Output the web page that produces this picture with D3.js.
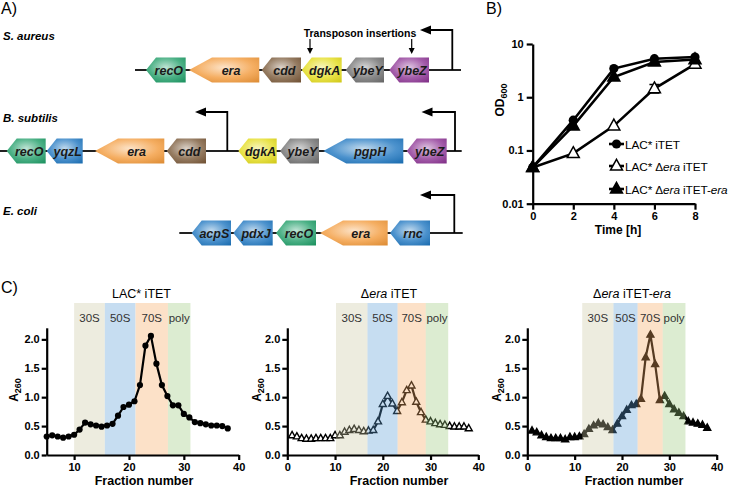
<!DOCTYPE html>
<html><head><meta charset="utf-8">
<script src="https://cdn.jsdelivr.net/npm/d3@7"></script>
<style>body{margin:0;background:#fff} svg{display:block;font-family:"Liberation Sans",Arial,Helvetica,sans-serif}</style>
</head><body><svg id="c" width="730" height="487"></svg>
<script>
// ---------- Panel A data (map units; 1 unit = one tick of the gene map) ----------
const saGenes = ["recO","era","cdd","dgkA","ybeY","ybeZ"];
const saStart = [14.6,18.9,26.17,30.17,34.57,38.93];
const saEnd   = [18.57,25.93,30.1,34.17,38.4,42.9];
const saLine  = [13.5,46.1];
const saPromoters = [45.23];

const bsGenes = ["recO","yqzL","era","cdd","dgkA","ybeY","pgpH","ybeZ"];
const bsStart = [0.67,4.67,9.5,16.67,23.83,28.0,32.33,40.67];
const bsEnd   = [4.57,8.27,16.43,20.6,27.67,31.9,40.33,44.67];
const bsLine  = [0,46.17];
const bsPromoters = [22.73,45.5];

const ecGenes = ["acpS","pdxJ","recO","era","rnc"];
const ecStart = [19.17,23.33,27.6,32.0,39.0];
const ecEnd   = [23.1,27.27,31.6,38.77,43.0];
const ecLine  = [17.93,46.27];
const ecPromoters = [45.43];

const transposonSites = [31.0,41.17];
const geneColors = {recO:"#1f9e68",era:"#f39a3b",cdd:"#7b5a3a",dgkA:"#e4dc1c",ybeY:"#6f6f6f",ybeZ:"#8d3595",
  yqzL:"#1f77c0",pgpH:"#1f77c0",acpS:"#1f77c0",pdxJ:"#1f77c0",rnc:"#1f77c0"};

// ---------- Panel B data ----------
const timeH = [0,2,4,6,8];
const odWT = [0.048,0.37,3.45,5.3,5.7];
const odDelta = [0.048,0.088,0.29,1.45,4.2];
const odDeltaErrLo = [null,null,null,1.2,null];
const odDeltaErrHi = [null,null,null,1.73,null];
const odComp = [0.048,0.29,2.4,4.6,5.1];
const legendLabels = ["LAC* iTET","LAC* Δera iTET","LAC* Δera iTET-era"];

// ---------- Panel C data ----------
const fracWT = d3.range(5,39);
const a260WT = [0.32,0.34,0.32,0.30,0.32,0.35,0.44,0.56,0.53,0.51,0.49,0.51,0.54,0.68,0.83,0.87,0.93,1.21,1.89,2.06,1.58,1.21,1.02,0.86,0.86,0.71,0.65,0.57,0.55,0.53,0.51,0.51,0.50,0.46];
const fracDelta = d3.range(1,39);
const a260Delta = [0.34,0.32,0.29,0.28,0.28,0.29,0.29,0.29,0.29,0.34,0.34,0.40,0.43,0.45,0.43,0.41,0.42,0.43,0.58,0.88,1.02,0.89,0.76,0.91,1.12,1.20,0.92,0.74,0.61,0.58,0.55,0.53,0.52,0.50,0.49,0.49,0.49,0.46];
const fracComp = d3.range(1,39);
const a260Comp = [0.42,0.39,0.34,0.31,0.29,0.29,0.29,0.27,0.31,0.31,0.32,0.36,0.45,0.51,0.55,0.53,0.48,0.43,0.54,0.67,0.78,0.86,0.88,0.97,1.69,2.08,1.57,0.95,1.02,0.88,0.79,0.73,0.67,0.58,0.56,0.54,0.52,0.47];
const bandNames = ["30S","50S","70S","poly"];
const bandsWT = [10,15.6,21.2,27.1,31.2];
const bandsDelta = [10.2,16.8,23.1,29.0,33.7];
const bandsComp = [11.6,18.2,23.3,28.6,33.4];
const yTicksC = [0,0.5,1.0,1.5,2.0];

// =====================================================================
const svg = d3.select("#c");
const defs = svg.append("defs");
const FONT = '"Liberation Sans",Arial,sans-serif';

function label(txt,x,y,size,weight,anchor){
  return svg.append("text").attr("x",x).attr("y",y).attr("font-size",size)
    .attr("font-weight",weight||"normal").attr("text-anchor",anchor||"start").text(txt);
}
label("A)",1,14,16);
label("B)",486,14,16);
label("C)",1,293,16);

// ---------- Panel A ----------
const xMap = d3.scaleLinear().domain([0,47]).range([0,470]);
Object.entries(geneColors).forEach(([g,c])=>{
  const gr = defs.append("radialGradient").attr("id","g_"+g).attr("cx","50%").attr("cy","40%").attr("r","75%");
  gr.append("stop").attr("offset","0%").attr("stop-color",d3.interpolateRgb(c,"#fff")(0.72));
  gr.append("stop").attr("offset","55%").attr("stop-color",d3.interpolateRgb(c,"#fff")(0.2));
  gr.append("stop").attr("offset","100%").attr("stop-color",d3.color(c).darker(0.25));
});
function arrowHead(x,y){ // pointing left
  svg.append("path").attr("d",`M${x},${y} L${x+11},${y-4.5} L${x+11},${y+4.5} Z`).attr("fill","#000");
}
function row(name,labelY,yc,genes,starts,ends,line,promoters,promY,promHead){
  svg.append("text").attr("x",3).attr("y",labelY).attr("font-size",11.5).attr("font-weight","bold")
    .attr("font-style","italic").text(name);
  svg.append("line").attr("x1",xMap(line[0])).attr("x2",xMap(line[1])).attr("y1",yc).attr("y2",yc)
    .attr("stroke","#222").attr("stroke-width",1.8);
  const h=12.5;
  genes.forEach((g,i)=>{
    const x0=xMap(starts[i]), x1=xMap(ends[i]);
    const head = (x1-x0)>60 ? 23 : 10;
    svg.append("path").attr("d",`M${x0},${yc} L${x0+head},${yc-h} L${x1},${yc-h} L${x1},${yc+h} L${x0+head},${yc+h} Z`)
      .attr("fill",`url(#g_${g})`);
    svg.append("text").attr("x",(x0+head*0.6+x1)/2).attr("y",yc+4.5).attr("text-anchor","middle")
      .attr("font-size",12.5).attr("font-weight","bold").attr("font-style","italic").attr("fill","#1a1a1a").text(g);
  });
  promoters.forEach((p,i)=>{
    const px=xMap(p);
    svg.append("path").attr("d",`M${px},${yc} L${px},${promY} L${promHead[i]+8},${promY}`)
      .attr("fill","none").attr("stroke","#000").attr("stroke-width",1.8);
    arrowHead(promHead[i],promY);
  });
}
row("S. aureus",39.5,70,saGenes,saStart,saEnd,saLine,saPromoters,30,[420]);
row("B. subtilis",122,151,bsGenes,bsStart,bsEnd,bsLine,bsPromoters,112,[195,421.5]);
row("E. coli",214.5,233,ecGenes,ecStart,ecEnd,ecLine,ecPromoters,195,[420]);
svg.append("text").attr("x",360).attr("y",37).attr("text-anchor","middle").attr("font-size",10.5)
  .attr("font-weight","bold").text("Transposon insertions");
transposonSites.forEach(s=>{
  const x=xMap(s);
  svg.append("line").attr("x1",x).attr("x2",x).attr("y1",39).attr("y2",50).attr("stroke","#000").attr("stroke-width",1.2);
  svg.append("path").attr("d",`M${x-3},${48} L${x+3},${48} L${x},${54} Z`).attr("fill","#000");
});

// ---------- Panel B ----------
const xB = d3.scaleLinear().domain([0,8]).range([532.7,695]);
const yB = d3.scaleLog().domain([0.01,10]).range([203.7,44]);
function styleAxis(g){
  g.selectAll(".domain").attr("stroke","#000").attr("stroke-width",2.2);
  g.selectAll(".tick line").attr("stroke","#000").attr("stroke-width",2.2);
  g.selectAll("text").attr("font-family",FONT).attr("font-size",11).attr("font-weight","bold").attr("fill","#000");
}
svg.append("g").attr("transform",`translate(0,${yB(0.01)})`)
  .call(d3.axisBottom(xB).tickValues(timeH).tickSize(6).tickSizeOuter(0).tickPadding(3)).call(styleAxis);
svg.append("g").attr("transform",`translate(${xB(0)},0)`)
  .call(d3.axisLeft(yB).tickValues([0.01,0.1,1,10]).tickFormat(d=>String(d)).tickSize(6).tickSizeOuter(0).tickPadding(3)).call(styleAxis);
const odY = svg.append("text").attr("transform","translate(504,100) rotate(-90)").attr("text-anchor","middle")
  .attr("font-size",12).attr("font-weight","bold");
odY.append("tspan").text("OD");
odY.append("tspan").attr("font-size",9).attr("dy",3).text("600");
label("Time [h]",618,234,12,"bold","middle");

const lineB = d3.line().x((d,i)=>xB(timeH[i])).y(d=>yB(d));
const triPath = s => { const h=s*0.9; return `M0,${-h*0.62} L${s/2},${h*0.38} L${-s/2},${h*0.38} Z`; };
function drawSeries(vals){
  svg.append("path").attr("d",lineB(vals)).attr("fill","none").attr("stroke","#000").attr("stroke-width",2.6);
}
odDelta.forEach((v,i)=>{
  if(odDeltaErrLo[i]==null) return;
  const x=xB(timeH[i]);
  svg.append("path").attr("d",`M${x},${yB(odDeltaErrLo[i])} L${x},${yB(odDeltaErrHi[i])} M${x-5},${yB(odDeltaErrHi[i])} L${x+5},${yB(odDeltaErrHi[i])} M${x-5},${yB(odDeltaErrLo[i])} L${x+5},${yB(odDeltaErrLo[i])}`)
    .attr("stroke","#000").attr("stroke-width",1.6).attr("fill","none");
});
drawSeries(odDelta); drawSeries(odComp); drawSeries(odWT);
function markerB(type,x,y){
  if(type==="circle") svg.append("circle").attr("cx",x).attr("cy",y).attr("r",4.6).attr("fill","#000");
  else svg.append("path").attr("transform",`translate(${x},${y})`).attr("d",triPath(12))
    .attr("fill",type==="open"?"#fff":"#000").attr("stroke","#000").attr("stroke-width",1.5);
}
odDelta.forEach((v,i)=>markerB("open",xB(timeH[i]),yB(v)));
odComp.forEach((v,i)=>markerB("filled",xB(timeH[i]),yB(v)));
odWT.forEach((v,i)=>markerB("circle",xB(timeH[i]),yB(v)));
const legY=[144,166,189], legTypes=["circle","open","filled"];
legendLabels.forEach((t,i)=>{
  svg.append("line").attr("x1",609).attr("x2",624).attr("y1",legY[i]).attr("y2",legY[i]).attr("stroke","#000").attr("stroke-width",2.6);
  markerB(legTypes[i],616.5,legY[i]);
  const tx=svg.append("text").attr("x",625).attr("y",legY[i]+4.5).attr("font-size",11.8).attr("letter-spacing",-0.1);
  const parts=t.split("era");
  tx.append("tspan").text(parts[0]);
  for(let k=1;k<parts.length;k++){ tx.append("tspan").attr("font-style","italic").text("era"); tx.append("tspan").text(parts[k]); }
});

// ---------- Panel C ----------
const bandFill = ["#edecdf","#c6ddf1","#fce1c8","#dcecd1"];
const bandOver = ["rgb(204,201,164)","rgb(92,158,215)","rgb(246,169,98)","rgb(155,201,124)"];
function profile(o){
  const x=d3.scaleLinear().domain(o.xdom).range(o.xr);
  const y=d3.scaleLinear().domain([0,2.2]).range([455,327.8]);
  const g=svg.append("g");
  const drawBands=(fills,op)=>{
    bandNames.forEach((b,i)=>{
      g.append("rect").attr("x",x(o.bands[i])).attr("width",x(o.bands[i+1])-x(o.bands[i]))
        .attr("y",303).attr("height",455-303).attr("fill",fills[i]).attr("opacity",op);
    });
  };
  if(!o.over) drawBands(bandFill,1);
  g.append("path").attr("d",d3.line().x((d,i)=>x(o.frac[i])).y(d=>y(d))(o.vals))
    .attr("fill","none").attr("stroke","#000").attr("stroke-width",2.2);
  o.vals.forEach((v,i)=>{
    const cx=x(o.frac[i]), cy=y(v);
    if(o.marker==="circle") g.append("circle").attr("cx",cx).attr("cy",cy).attr("r",3.1).attr("fill","#000");
    else g.append("path").attr("transform",`translate(${cx},${cy})`).attr("d",triPath(7))
      .attr("fill",o.marker==="open"?"#fff":"#000").attr("stroke","#000").attr("stroke-width",1.4);
  });
  if(o.over) drawBands(bandOver,0.35);
  bandNames.forEach((b,i)=>{
    g.append("text").attr("x",(x(o.bands[i])+x(o.bands[i+1]))/2).attr("y",322).attr("text-anchor","middle")
      .attr("font-size",11.5).attr("fill","#333").text(b);
  });
  g.append("g").attr("transform","translate(0,455)")
    .call(d3.axisBottom(x).tickValues(o.xticks).tickSize(5).tickSizeOuter(0).tickPadding(3)).call(styleAxis);
  g.append("g").attr("transform",`translate(${o.xr[0]},0)`)
    .call(d3.axisLeft(y).tickValues(yTicksC).tickFormat(d3.format(".1f")).tickSize(5).tickSizeOuter(0).tickPadding(2)).call(styleAxis);
  const yl=g.append("text").attr("transform",`translate(${o.ylx},390) rotate(-90)`).attr("text-anchor","middle")
    .attr("font-size",12).attr("font-weight","bold");
  yl.append("tspan").text("A");
  yl.append("tspan").attr("font-size",9).attr("dy",3).text("260");
  g.append("text").attr("x",o.xlx).attr("y",484.5).attr("text-anchor","middle").attr("font-size",12.5)
    .attr("font-weight","bold").text("Fraction number");
  const tt=g.append("text").attr("x",o.tx).attr("y",298).attr("text-anchor","middle").attr("font-size",12.5);
  o.title.forEach(p=>tt.append("tspan").attr("font-style",p[1]?"italic":"normal").text(p[0]));
}
profile({xdom:[5,40],xr:[46.7,238.7],xticks:[10,20,30,40],frac:fracWT,vals:a260WT,bands:bandsWT,marker:"circle",over:false,
  ylx:18,xlx:144,tx:141.5,title:[["LAC* iTET",false]]});
profile({xdom:[0,40],xr:[287.3,478.3],xticks:[0,10,20,30,40],frac:fracDelta,vals:a260Delta,bands:bandsDelta,marker:"open",over:true,
  ylx:261,xlx:399,tx:389,title:[["Δ",false],["era",true],[" iTET",false]]});
profile({xdom:[0,40],xr:[527.3,716.7],xticks:[0,10,20,30,40],frac:fracComp,vals:a260Comp,bands:bandsComp,marker:"filled",over:true,
  ylx:501,xlx:634,tx:632,title:[["Δ",false],["era",true],["  iTET-",false],["era",true]]});
</script></body></html>
